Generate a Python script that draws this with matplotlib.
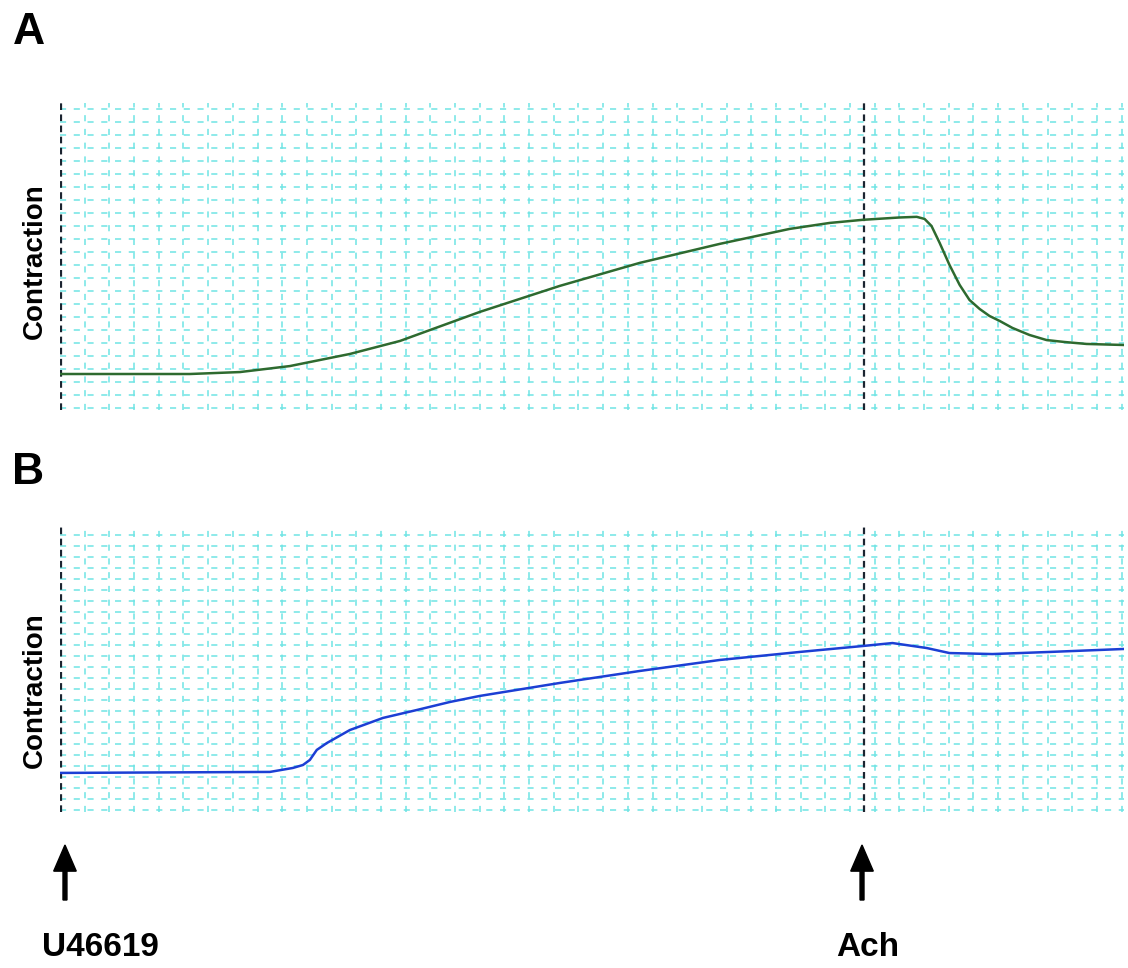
import numpy as np
import matplotlib
matplotlib.use("Agg")
import matplotlib.pyplot as plt

plt.rcParams['font.family'] = ['Liberation Sans', 'DejaVu Sans']

# trace A (x in grid divisions, y in grid divisions above the bottom)
a_t = [0, 5.26, 7.29, 9.31, 11.74, 13.77, 17.0, 20.24, 23.48, 26.72, 29.55,
       31.17, 32.51, 34.0, 34.7, 35.02, 35.3, 35.63, 36.03, 36.44, 36.84,
       37.25, 37.65, 38.06, 38.58, 39.27, 39.96, 40.69, 41.58, 43.08]
a_y = [2.77, 2.77, 2.92, 3.38, 4.31, 5.31, 7.54, 9.54, 11.31, 12.77, 13.92,
       14.38, 14.62, 14.8, 14.85, 14.69, 14.15, 12.85, 11.15, 9.62, 8.46,
       7.77, 7.23, 6.85, 6.31, 5.77, 5.38, 5.23, 5.08, 5.0]

# trace B
b_t = [0, 8.5, 9.43, 9.84, 10.12, 10.4, 10.81, 11.74, 13.08, 14.45, 15.79,
       17.0, 20.24, 23.48, 26.72, 29.96, 32.51, 33.72, 35.1, 36.03, 37.77,
       40.08, 43.08]
b_y = [3.55, 3.64, 4.0, 4.27, 4.73, 5.64, 6.27, 7.45, 8.55, 9.27, 10.0,
       10.55, 11.73, 12.82, 13.82, 14.55, 15.09, 15.36, 14.91, 14.45, 14.36,
       14.55, 14.82]

marks = [0, 32.51]
mark_labels = ['U46619', 'Ach']

fig = plt.figure(figsize=(11.28, 9.68), dpi=100)
axA = fig.add_axes([0.0532, 0.5764, 0.9433, 0.3172])
axB = fig.add_axes([0.0532, 0.1612, 0.9433, 0.2965])

grid_col = '#6fe4e4'
for ax, t, y, col, ytop in [(axA, a_t, a_y, '#2e6a2f', 23.6), (axB, b_t, b_y, '#1c3fd4', 26.1)]:
    ax.set_xlim(0, 43.1)
    ax.set_ylim(0, ytop)
    ax.set_xticks(np.arange(1, 44, 1))
    ax.set_yticks(np.arange(0.15, ytop, 1))
    ax.grid(True, color=grid_col, linestyle=(0, (4, 5)), linewidth=1.1)
    ax.tick_params(length=0, labelbottom=False, labelleft=False)
    for s in ax.spines.values():
        s.set_visible(False)
    for m in marks:
        ax.axvline(m + 0.05, color='#1b2430', linestyle=(0, (3, 2)), linewidth=1.6)
    ax.plot(t, y, color=col, linewidth=1.8, zorder=3)

fig.text(0.011, 0.955, 'A', fontsize=32, fontweight='bold', va='baseline')
fig.text(0.011, 0.5, 'B', fontsize=32, fontweight='bold', va='baseline')
fig.text(0.031, 0.73, 'Contraction', rotation=90, fontsize=20, fontweight='bold',
         ha='center', va='center')
fig.text(0.031, 0.287, 'Contraction', rotation=90, fontsize=20, fontweight='bold',
         ha='center', va='center')

arrow_x = [0.0576, 0.7642]
label_x = [0.089, 0.769]
for ax_, lx, lab in zip(arrow_x, label_x, mark_labels):
    fig.patches.append(matplotlib.patches.FancyArrow(
        ax_, 1 - 900 / 968, 0, (900 - 845) / 968, width=0.0035,
        head_width=0.02, head_length=0.027, length_includes_head=True,
        color='black', transform=fig.transFigure))
    fig.text(lx, 1 - 948 / 968, lab, fontsize=24, fontweight='bold',
             ha='center', va='center')

fig.savefig('out.png', dpi=100)
